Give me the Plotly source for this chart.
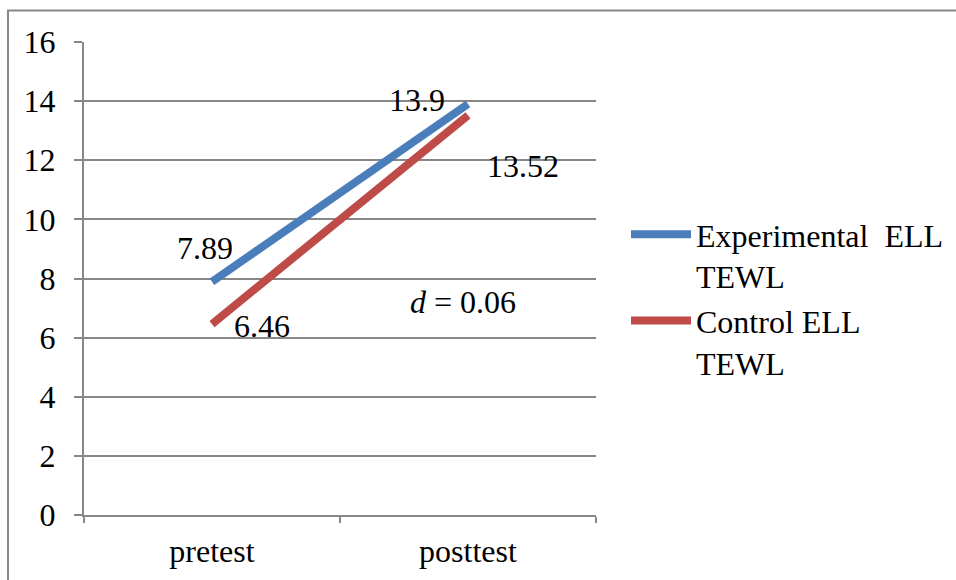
import plotly.graph_objects as go

categories = ["pretest", "posttest"]
experimental = [7.89, 13.9]
control = [6.46, 13.52]
series_names = ["Experimental  ELL<br>TEWL", "Control ELL<br>TEWL"]
effect_label = "<i>d</i> = 0.06"

FONT = "Liberation Serif, Tinos, Times New Roman, DejaVu Serif, serif"
FS = 32
GRID = "#878787"
BLUE = "#4A7EBB"
RED = "#BE4B48"

fig = go.Figure()
fig.add_trace(go.Scatter(x=categories, y=experimental, mode="lines",
                         name=series_names[0], line=dict(color=BLUE, width=8)))
fig.add_trace(go.Scatter(x=categories, y=control, mode="lines",
                         name=series_names[1], line=dict(color=RED, width=8)))

# data labels (offsets relative to data points)
label_specs = [
    (categories[0], experimental[0], -7, 34),
    (categories[1], experimental[1], -51, 4),
    (categories[0], control[0], 50, -2),
    (categories[1], control[1], 55, -51),
]
for x, y, dx, dy in label_specs:
    fig.add_annotation(x=x, y=y, text=f"{y:g}", showarrow=False,
                       xshift=dx, yshift=dy,
                       font=dict(family=FONT, size=FS, color="#000"))

fig.add_annotation(x=categories[1], y=7.2, text=effect_label, showarrow=False,
                   xshift=-5, font=dict(family=FONT, size=FS, color="#000"))

# outer chart border
fig.add_shape(type="rect", xref="paper", yref="paper",
              x0=(8 - 84) / 512, x1=2, y0=-0.5, y1=1 + (42 - 10.5) / 473,
              line=dict(color=GRID, width=2), fillcolor="rgba(0,0,0,0)")

fig.update_layout(
    width=956, height=580,
    margin=dict(l=84, r=360, t=42, b=65, autoexpand=False),
    plot_bgcolor="white", paper_bgcolor="white",
    font=dict(family=FONT, size=FS, color="#000"),
    showlegend=True,
    legend=dict(xref="container", yref="container", x=626 / 956, y=1 - 207 / 580,
                xanchor="left", yanchor="top",
                font=dict(family=FONT, size=FS, color="#000"),
                valign="top", itemwidth=60, tracegroupgap=13,
                bgcolor="rgba(0,0,0,0)"),
    xaxis=dict(type="category", range=[-0.5, 1.5], showgrid=False,
               showline=True, linecolor=GRID, linewidth=2,
               ticks="outside", tickson="boundaries", ticklen=6,
               tickcolor=GRID, tickwidth=2, ticklabelstandoff=7,
               tickfont=dict(family=FONT, size=FS)),
    yaxis=dict(range=[0, 16], dtick=2, showgrid=True, gridcolor=GRID,
               gridwidth=1.5, showline=True, linecolor=GRID, linewidth=2,
               ticks="outside", ticklen=8, tickcolor=GRID, tickwidth=2,
               ticklabelstandoff=12, zeroline=False,
               tickfont=dict(family=FONT, size=FS)),
)

fig.write_html("out.html")
